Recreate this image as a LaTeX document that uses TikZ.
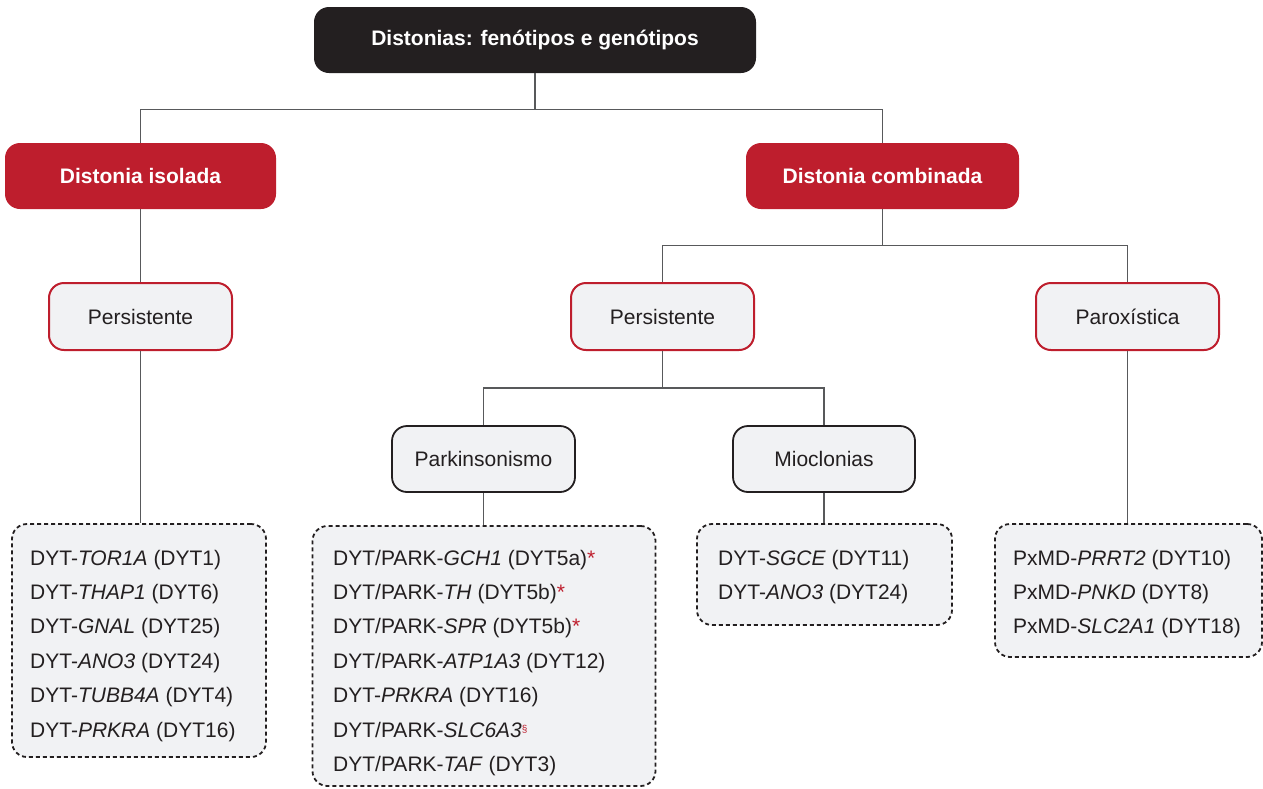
\documentclass[tikz,border=0pt]{standalone}
\usepackage{fontspec}
\setmainfont{Liberation Sans}
\definecolor{boxblack}{HTML}{231F20}
\definecolor{dred}{HTML}{BE1E2D}
\definecolor{lgray}{HTML}{F1F2F4}
\definecolor{lineg}{HTML}{58595B}
\definecolor{txt}{HTML}{231F20}
\newcommand{\redast}{{\color{dred}*}}
\newcommand{\redsect}{\raisebox{5pt}{\fontsize{10}{10}\selectfont\color{dred}\S}}
\begin{document}
\begin{tikzpicture}[x=1pt,y=-1pt,
  basebox/.style={rounded corners=15pt, inner sep=0pt},
  topbox/.style={basebox, fill=boxblack, text=white, font=\fontsize{21}{25}\selectfont\bfseries},
  redbox/.style={basebox, fill=dred, text=white, font=\fontsize{21}{25}\selectfont\bfseries},
  catbox/.style={basebox, fill=lgray, draw=dred, line width=2pt, text=txt, font=\fontsize{21}{25}\selectfont},
  subbox/.style={basebox, fill=lgray, draw=boxblack, line width=1.8pt, text=txt, font=\fontsize{21}{25}\selectfont},
  listbox/.style={basebox, fill=lgray, draw=boxblack, line width=1.8pt, dash pattern=on 4pt off 3pt},
  entry/.style={anchor=base west, inner sep=0pt, text=txt, font=\fontsize{21}{25}\selectfont},
  conn/.style={draw=lineg, line width=1.3pt}]
\useasboundingbox (0,0) rectangle (1263,788);

% boxes
\node[topbox, minimum width=442pt, minimum height=66pt] (top) at (535,40) {Distonias: fenótipos e genótipos};
\node[redbox, minimum width=271pt, minimum height=66pt] (isol) at (140.5,176) {Distonia isolada};
\node[redbox, minimum width=273pt, minimum height=66pt] (comb) at (882.5,176) {Distonia combinada};
\node[catbox, minimum width=183pt, minimum height=67pt] (pers1) at (140.5,316.5) {Persistente};
\node[catbox, minimum width=183pt, minimum height=67pt] (pers2) at (662.5,316.5) {Persistente};
\node[catbox, minimum width=183pt, minimum height=67pt] (parox) at (1127.5,316.5) {Paroxística};
\node[subbox, minimum width=183pt, minimum height=66pt] (park) at (483.5,459) {Parkinsonismo};
\node[subbox, minimum width=182pt, minimum height=66pt] (mioc) at (824,459) {Mioclonias};
\node[listbox, minimum width=254pt, minimum height=233pt] (list1) at (139,640.5) {};
\node[listbox, minimum width=343pt, minimum height=260pt] (list2) at (484,656) {};
\node[listbox, minimum width=255pt, minimum height=101pt] (list3) at (824.5,574.5) {};
\node[listbox, minimum width=267pt, minimum height=133pt] (list4) at (1128.5,590.5) {};

\coordinate (j1) at ([yshift=-36pt]top.south);
\coordinate (j2) at ([yshift=-36pt]comb.south);
\coordinate (j3) at ([yshift=-37pt]pers2.south);

% connectors
\draw[conn] (top.south) -- (j1);
\draw[conn] (isol.north) |- (j1) -| (comb.north);
\draw[conn] (isol.south) -- (isol.south |- pers1.north);
\draw[conn] (pers1.south) -- (pers1.south |- list1.north);
\draw[conn] (comb.south) -- (j2);
\draw[conn] (pers2.north) |- (j2) -| (parox.north);
\draw[conn] (pers2.south) -- (j3);
\draw[conn] (park.north) |- (j3) -| (mioc.north);
\draw[conn] (park.south) -- (park.south |- list2.north);
\draw[conn] (mioc.south) -- (mioc.south |- list3.north);
\draw[conn] (parox.south) -- (parox.south |- list4.north);

% list entries
\foreach \t [count=\i from 0] in {
  DYT-\textit{TOR1A} (DYT1),
  DYT-\textit{THAP1} (DYT6),
  DYT-\textit{GNAL} (DYT25),
  DYT-\textit{ANO3} (DYT24),
  DYT-\textit{TUBB4A} (DYT4),
  DYT-\textit{PRKRA} (DYT16)}
  \node[entry] (a\i) at (30,565+34.4*\i) {\t};

\foreach \t [count=\i from 0] in {
  DYT/PARK-\textit{GCH1} (DYT5a)\redast,
  DYT/PARK-\textit{TH} (DYT5b)\redast,
  DYT/PARK-\textit{SPR} (DYT5b)\redast,
  DYT/PARK-\textit{ATP1A3} (DYT12),
  DYT-\textit{PRKRA} (DYT16),
  DYT/PARK-\textit{SLC6A3}\redsect,
  DYT/PARK-\textit{TAF} (DYT3)}
  \node[entry] (b\i) at (333,565+34.45*\i) {\t};

\foreach \t [count=\i from 0] in {
  DYT-\textit{SGCE} (DYT11),
  DYT-\textit{ANO3} (DYT24)}
  \node[entry] (c\i) at (718,565+34.4*\i) {\t};

\foreach \t [count=\i from 0] in {
  PxMD-\textit{PRRT2} (DYT10),
  PxMD-\textit{PNKD} (DYT8),
  PxMD-\textit{SLC2A1} (DYT18)}
  \node[entry] (d\i) at (1013,565+34.4*\i) {\t};
\end{tikzpicture}
\end{document}
